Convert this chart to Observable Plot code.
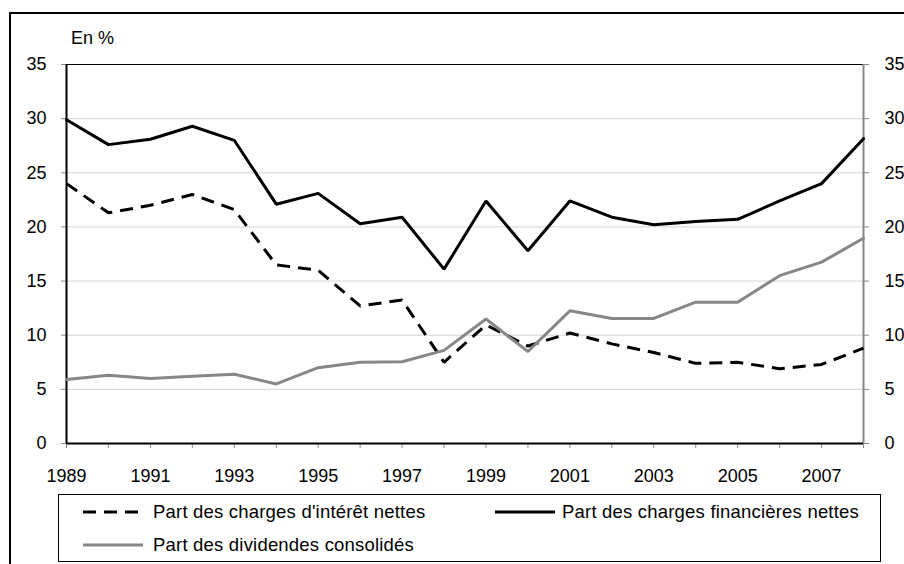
<!DOCTYPE html>
<html>
<head>
<meta charset="utf-8">
<script src="https://cdn.jsdelivr.net/npm/d3@7"></script>
<script src="https://cdn.jsdelivr.net/npm/@observablehq/plot@0.6"></script>
<style>
  html, body { margin: 0; padding: 0; background: #fff; }
  #wrap { position: relative; width: 904px; height: 564px; overflow: hidden; font-family: "Liberation Sans", Arial, sans-serif; }
  #frame { position: absolute; left: 9px; top: 12px; width: 1000px; height: 700px; border: 2px solid #000; box-sizing: border-box; }
  #chart { position: absolute; left: 0; top: 0; }
  #unit { position: absolute; left: 71px; top: 28px; font-size: 18px; color: #000; }
  #legend { position: absolute; left: 58px; top: 494px; width: 823px; height: 68px; border: 1px solid #000; box-sizing: border-box; background: #fff; }
  .item { position: absolute; display: flex; align-items: center; font-size: 18.5px; letter-spacing: 0.2px; color: #000; white-space: nowrap; }
</style>
</head>
<body>
<div id="wrap">
  <div id="frame"></div>
  <div id="chart"></div>
  <div id="unit">En %</div>
  <div id="legend"></div>
</div>
<script>
const years = [1989,1990,1991,1992,1993,1994,1995,1996,1997,1998,1999,2000,2001,2002,2003,2004,2005,2006,2007,2008];
const interets = [24.0,21.3,22.0,23.0,21.6,16.5,16.0,12.7,13.25,7.5,10.95,9.0,10.2,9.2,8.4,7.4,7.5,6.9,7.3,8.8];
const financieres = [29.9,27.6,28.1,29.3,28.0,22.1,23.1,20.3,20.9,16.1,22.4,17.8,22.4,20.9,20.2,20.5,20.7,22.4,24.0,28.15];
const dividendes = [5.9,6.3,6.0,6.2,6.4,5.5,7.0,7.5,7.55,8.6,11.5,8.5,12.25,11.55,11.55,13.05,13.05,15.5,16.75,18.95];
const yTicks = [0,5,10,15,20,25,30,35];
const xLabelYears = [1989,1991,1993,1995,1997,1999,2001,2003,2005,2007];
const seriesNames = ["Part des charges d'intérêt nettes", "Part des charges financières nettes", "Part des dividendes consolidés"];

const toRows = (vals) => years.map((y, i) => ({year: y, value: vals[i]}));
const grid = yTicks.filter(v => v > 0 && v < 35);

const GRAY = "#878787";

const chart = Plot.plot({
  width: 904,
  height: 564,
  marginLeft: 66,
  marginRight: 41,
  marginTop: 64,
  marginBottom: 121,
  style: {fontFamily: "'Liberation Sans', Arial, sans-serif", fontSize: "18px", color: "#000", background: "transparent"},
  x: {type: "linear", domain: [1989, 2008]},
  y: {domain: [0, 35]},
  marks: [
    Plot.ruleY(grid, {stroke: "#d4d4d4", strokeWidth: 1}),
    Plot.ruleY([35], {stroke: "#000", strokeWidth: 1.2}),
    Plot.axisY({anchor: "left", ticks: yTicks, tickSize: 5, tickPadding: 15, stroke: GRAY, fill: "#000", label: null}),
    Plot.axisY({anchor: "right", ticks: yTicks, tickSize: 5, tickPadding: 16, stroke: GRAY, fill: "#000", label: null}),
    Plot.axisX({ticks: years, tickSize: 5, stroke: GRAY, text: null, label: null}),
    Plot.axisX({ticks: xLabelYears, tickSize: 0, tickPadding: 26, tickFormat: d => String(d), fill: "#000", label: null}),
    Plot.ruleX([2008], {stroke: GRAY, strokeWidth: 2}),
    Plot.ruleX([1989], {stroke: "#000", strokeWidth: 2}),
    Plot.ruleY([0], {stroke: "#000", strokeWidth: 2}),
    Plot.line(toRows(interets), {x: "year", y: "value", stroke: "#000", strokeWidth: 3, strokeDasharray: "13,8", strokeLinejoin: "miter", strokeLinecap: "butt"}),
    Plot.line(toRows(financieres), {x: "year", y: "value", stroke: "#000", strokeWidth: 3, strokeLinejoin: "miter"}),
    Plot.line(toRows(dividendes), {x: "year", y: "value", stroke: GRAY, strokeWidth: 3, strokeLinejoin: "miter"})
  ]
});
document.getElementById("chart").appendChild(chart);

// legend
const legend = document.getElementById("legend");
const items = [
  {name: seriesNames[0], stroke: "#000", dash: "13,8", left: 24, top: 17, gap: 10},
  {name: seriesNames[1], stroke: "#000", dash: null, left: 436, top: 17, gap: 7},
  {name: seriesNames[2], stroke: GRAY, dash: null, left: 24, top: 50, gap: 10}
];
for (const it of items) {
  const div = document.createElement("div");
  div.className = "item";
  div.style.left = it.left + "px";
  div.style.top = (it.top - 11) + "px";
  div.style.height = "22px";
  const s = d3.create("svg").attr("width", 60).attr("height", 6).style("margin-right", it.gap + "px");
  s.append("line").attr("x1", 0).attr("x2", 60).attr("y1", 3).attr("y2", 3)
    .attr("stroke", it.stroke).attr("stroke-width", 3)
    .attr("stroke-dasharray", it.dash);
  div.appendChild(s.node());
  const t = document.createElement("span");
  t.textContent = it.name;
  div.appendChild(t);
  legend.appendChild(div);
}
</script>
</body>
</html>
